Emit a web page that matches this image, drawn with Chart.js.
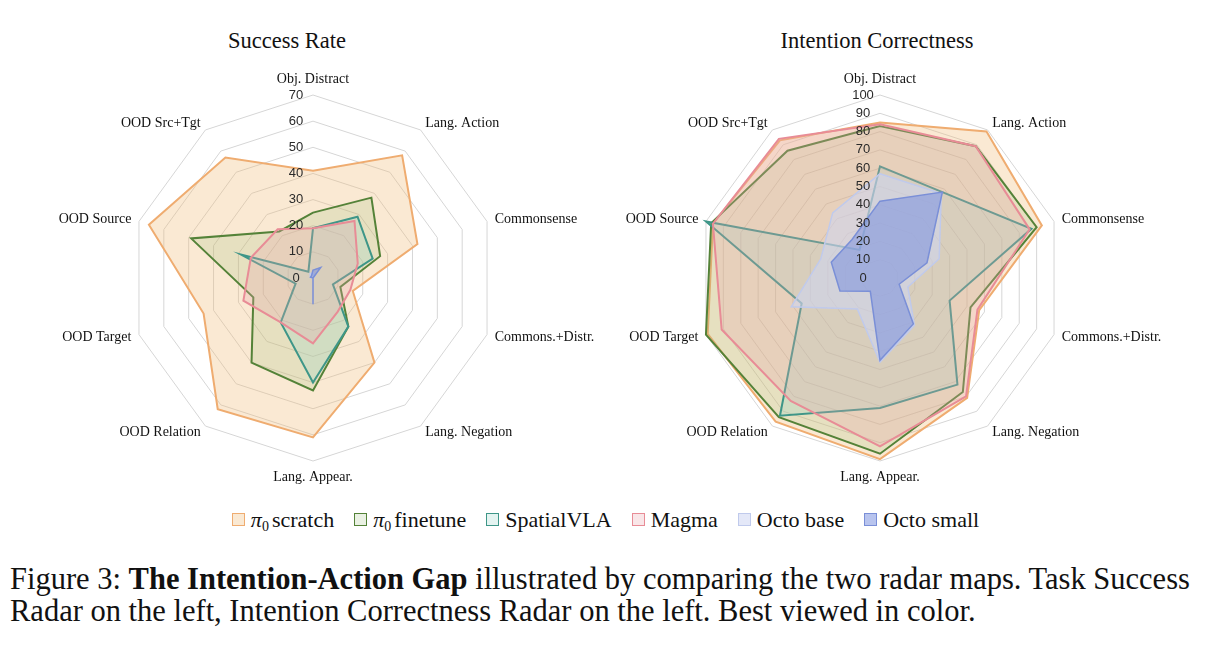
<!DOCTYPE html>
<html>
<head>
<meta charset="utf-8">
<script src="https://cdn.jsdelivr.net/npm/chart.js@4.4.1/dist/chart.umd.min.js"></script>
<style>
  body {
    margin: 0;
    width: 1220px;
    height: 660px;
    background: #fff;
    position: relative;
    overflow: hidden;
    font-family: "Liberation Serif", "Times New Roman", serif;
    color: #111;
  }
  .title {
    position: absolute;
    top: 28px;
    font-size: 22.5px;
    transform: translateX(-50%);
    white-space: nowrap;
  }
  .chart-box {
    position: absolute;
    top: 58px;
    width: 640px;
    height: 440px;
  }
  #legend {
    position: absolute;
    top: 507px;
    left: 0;
    width: 1211px;
    text-align: center;
    font-size: 22px;
    white-space: nowrap;
  }
  .item { display: inline-block; margin: 0 10px; }
  .swatch {
    display: inline-block;
    width: 11px;
    height: 11px;
    margin-right: 6px;
    vertical-align: 1px;
  }
  .item sub { font-size: 14px; vertical-align: -4px; margin-right: 3px; }
  #caption {
    position: absolute;
    left: 10px;
    top: 563px;
    font-size: 30.5px;
    line-height: 32px;
    white-space: nowrap;
  }
</style>
</head>
<body>
<div class="title" style="left:287px">Success Rate</div>
<div class="title" style="left:877px">Intention Correctness</div>
<div class="chart-box" style="left:-7px"><canvas id="successChart"></canvas></div>
<div class="chart-box" style="left:560px"><canvas id="intentChart"></canvas></div>
<div id="legend"></div>
<div id="caption">Figure 3: <b>The Intention-Action Gap</b> illustrated by comparing the two radar maps. Task Success<br>Radar on the left, Intention Correctness Radar on the left. Best viewed in color.</div>

<script>
const axes = ['Obj. Distract', 'Lang. Action', 'Commonsense', 'Commons.+Distr.', 'Lang. Negation',
    'Lang. Appear.', 'OOD Relation', 'OOD Target', 'OOD Source', 'OOD Src+Tgt'];
const models = ['π0 scratch', 'π0 finetune', 'SpatialVLA', 'Magma', 'Octo base', 'Octo small'];

// success rate (%)
const successScratch = [41, 58, 42, 16, 40, 61, 62, 44, 66, 57];
const successFinetune = [25, 38, 27, 11, 23, 43, 40, 24, 49, 22];
const successSpatial = [19, 29, 24, 8, 23, 40, 21, 7, 29, 3];
const successMagma = [19, 27, 18, 15, 16, 25, 21, 28, 25, 23];
const successOctoBase = [2, 1, 0, 0, 0, 1, 0, 0, 1, 2];
const successOctoSmall = [3, 5, 0, 0, 0, 10, 0, 0, 1, 1];
const successTicks = [0, 10, 20, 30, 40, 50, 60, 70];

// intention correctness (%)
const intentScratch = [85, 99, 93, 57, 81, 99, 97, 99, 96, 93];
const intentFinetune = [83, 89, 90, 52, 77, 96, 94, 100, 97, 86];
const intentSpatial = [61, 58, 87, 40, 72, 71, 93, 45, 100, 19];
const intentMagma = [84, 89, 86, 56, 80, 92, 83, 91, 96, 94];
const intentOctoBase = [57, 57, 34, 16, 32, 46, 21, 51, 34, 44];
const intentOctoSmall = [42, 58, 27, 11, 31, 45, 9, 23, 28, 26];
const intentTicks = [0, 10, 20, 30, 40, 50, 60, 70, 80, 90, 100];

const lineColors = ['rgb(239,172,112)', 'rgb(84,130,56)', 'rgb(62,150,136)',
    'rgb(232,140,150)', 'rgb(192,202,236)', 'rgb(122,143,215)'];
const fillColors = ['rgba(238,188,118,0.32)', 'rgba(150,185,115,0.20)', 'rgba(150,212,200,0.26)',
    'rgba(232,165,172,0.28)', 'rgba(205,213,242,0.55)', 'rgba(118,142,222,0.52)'];
const lineWidths = [2, 2, 2, 2, 1.5, 1.5];

// tick numbers beside the vertical axis and the axis names, placed from the scale
const radarText = {
    id: 'radarText',
    afterDatasetsDraw(chart) {
        const scale = chart.scales.r;
        const ctx = chart.ctx;
        ctx.save();
        ctx.textBaseline = 'middle';
        ctx.font = '13px "Liberation Sans", Arial, sans-serif';
        ctx.fillStyle = '#2a2a2a';
        ctx.textAlign = 'center';
        scale.ticks.forEach(t => {
            const y = scale.yCenter - scale.getDistanceFromCenterForValue(t.value);
            ctx.fillText(t.label, scale.xCenter - 17, y);
        });
        ctx.font = '14px "Liberation Serif", "Times New Roman", serif';
        ctx.fillStyle = '#111';
        chart.data.labels.forEach((label, i) => {
            const p = scale.getPointPosition(i, scale.drawingArea + 8);
            const dx = p.x - scale.xCenter;
            let y = p.y;
            if (Math.abs(dx) < 1) {
                ctx.textAlign = 'center';
                y += p.y < scale.yCenter ? -8 : 8;
            } else {
                ctx.textAlign = dx > 0 ? 'left' : 'right';
            }
            ctx.fillText(label, p.x, y);
        });
        ctx.restore();
    }
};

function buildRadar(canvasId, series, ticks) {
    const datasets = series.map((values, i) => ({
        label: models[i],
        data: values,
        borderColor: lineColors[i],
        backgroundColor: fillColors[i],
        borderWidth: lineWidths[i],
        pointRadius: 0,
        fill: true,
        tension: 0,
        order: series.length - i
    }));
    new Chart(document.getElementById(canvasId), {
        type: 'radar',
        data: { labels: axes, datasets },
        options: {
            responsive: true,
            maintainAspectRatio: false,
            animation: false,
            layout: { padding: { top: 37, bottom: 37, left: 0, right: 0 } },
            plugins: { legend: { display: false }, tooltip: { enabled: false } },
            scales: {
                r: {
                    min: ticks[0],
                    max: ticks[ticks.length - 1],
                    ticks: { stepSize: ticks[1] - ticks[0], display: false },
                    grid: { color: '#d6d6d6', lineWidth: 1 },
                    angleLines: { display: false },
                    pointLabels: { display: false }
                }
            }
        },
        plugins: [radarText]
    });
}

buildRadar('successChart',
    [successScratch, successFinetune, successSpatial, successMagma, successOctoBase, successOctoSmall],
    successTicks);
buildRadar('intentChart',
    [intentScratch, intentFinetune, intentSpatial, intentMagma, intentOctoBase, intentOctoSmall],
    intentTicks);

// shared legend under both radars
const legend = document.getElementById('legend');
models.forEach((name, i) => {
    const item = document.createElement('span');
    item.className = 'item';
    const text = name.replace('π0 ', '<i>π</i><sub>0</sub>');
    item.innerHTML = `<span class="swatch" style="border:1px solid ${lineColors[i]};background:${fillColors[i]}"></span>${text}`;
    legend.appendChild(item);
});
</script>
</body>
</html>
